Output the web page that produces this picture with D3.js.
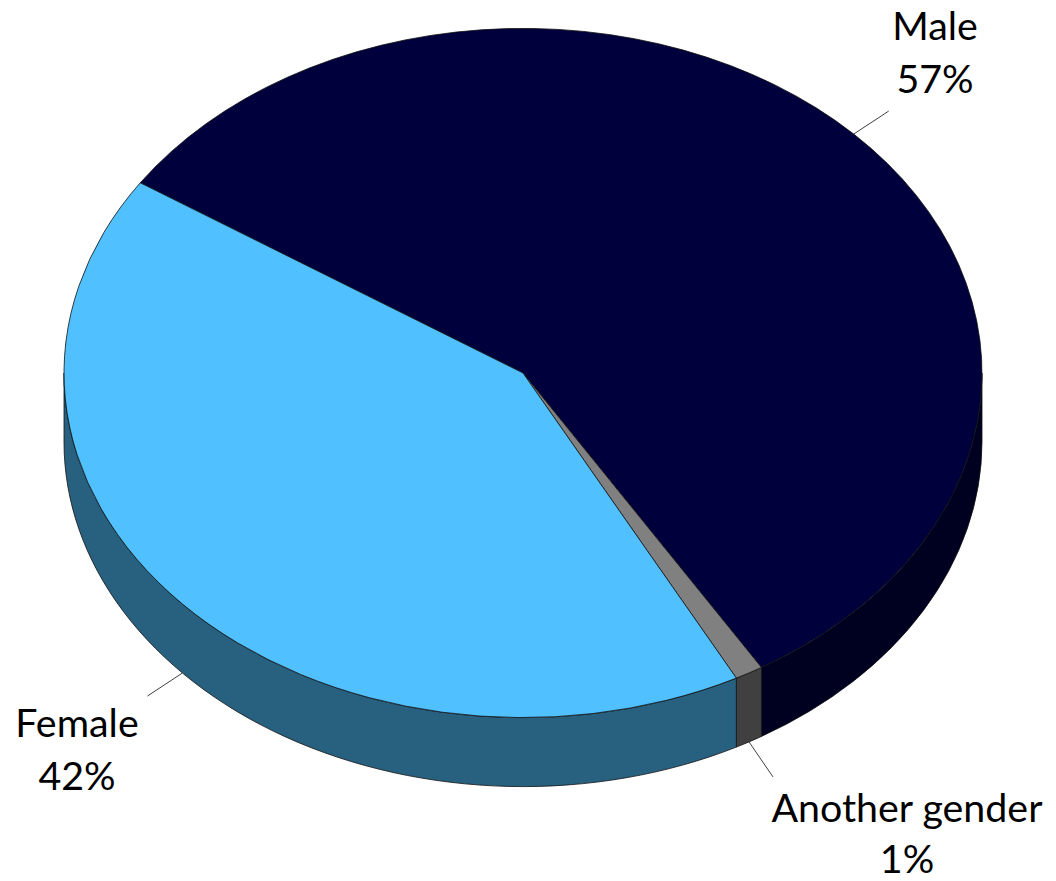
<!DOCTYPE html>
<html>
<head>
<meta charset="utf-8">
<script src="https://cdn.jsdelivr.net/npm/d3@7/dist/d3.min.js"></script>
<style>
  html, body { margin: 0; padding: 0; background: #ffffff; }
  svg { display: block; }
</style>
</head>
<body>
<svg id="chart" width="1056" height="881"></svg>
<script>
// ---- data ----
const categories = ["Male", "Another gender", "Female"];
const values = [57, 1, 42];
const pctLabels = ["57%", "1%", "42%"];
const topColors = ["#00003d", "#808080", "#50c0ff"];
const sideColors = ["#000021", "#404040", "#28607f"];

// ---- layout ----
const W = 1056, H = 881;
const cx = 523, cy = 373, rx = 459, ry = 344.6, depth = 69;
const startDeg = -56.5;
const labelLayout = {
  "Male":           { anchor: "top",    dx: 35,  dy: -23, tx: 935, ty1: 40,  ty2: 93 },
  "Another gender": { anchor: "bottom", dx: 24,  dy: 35,  tx: 907, ty1: 822, ty2: 873 },
  "Female":         { anchor: "bottom", dx: -35, dy: 23,  tx: 77,  ty1: 737, ty2: 790 }
};

const svg = d3.select("#chart");
const data = categories.map((c, i) => ({ cat: c, value: values[i], pct: pctLabels[i], top: topColors[i], side: sideColors[i] }));

const start = startDeg * Math.PI / 180;
const pie = d3.pie().sort(null).value(d => d.value).startAngle(start).endAngle(start + 2 * Math.PI);
const arcs = pie(data);

const px = a => cx + rx * Math.sin(a);
const py = a => cy - ry * Math.cos(a);

// side walls (front half only)
function sidePath(a0, a1) {
  const large = (a1 - a0) > Math.PI ? 1 : 0;
  return `M${px(a0)},${py(a0)}` +
    `A${rx},${ry} 0 ${large} 1 ${px(a1)},${py(a1)}` +
    `L${px(a1)},${py(a1) + depth}` +
    `A${rx},${ry} 0 ${large} 0 ${px(a0)},${py(a0) + depth}Z`;
}
const sideSegs = [];
arcs.forEach(a => {
  [-2 * Math.PI, 0, 2 * Math.PI].forEach(off => {
    const lo = Math.max(a.startAngle, Math.PI / 2 + off);
    const hi = Math.min(a.endAngle, 3 * Math.PI / 2 + off);
    if (hi > lo) sideSegs.push({ a0: lo, a1: hi, d: a.data });
  });
});
svg.append("g").selectAll("path").data(sideSegs).join("path")
  .attr("d", s => sidePath(s.a0, s.a1))
  .attr("fill", s => s.d.side)
  .attr("stroke", "#111")
  .attr("stroke-width", 0.8)
  .attr("stroke-linejoin", "round");

// top faces via d3.arc scaled to ellipse
const R = 100;
const arcGen = d3.arc().innerRadius(0).outerRadius(R);
svg.append("g")
  .attr("transform", `translate(${cx},${cy}) scale(${rx / R},${ry / R})`)
  .selectAll("path").data(arcs).join("path")
  .attr("d", arcGen)
  .attr("fill", a => a.data.top)
  .attr("stroke", "#111")
  .attr("stroke-width", 0.8)
  .attr("vector-effect", "non-scaling-stroke")
  .attr("stroke-linejoin", "round");

// labels
const fontFamily = "Lato, 'Open Sans', sans-serif";
// fit font size so "Another gender" spans ~271px
const probe = svg.append("text").attr("font-family", fontFamily).attr("font-size", 40).text("Another gender");
const w40 = probe.node().getComputedTextLength();
probe.remove();
const fontSize = 40 * 271 / w40;

const lg = svg.append("g");
arcs.forEach(a => {
  const L = labelLayout[a.data.cat];
  const mid = (a.startAngle + a.endAngle) / 2;
  const x0 = px(mid);
  const y0 = py(mid) + (L.anchor === "bottom" ? depth : 0);
  lg.append("line")
    .attr("x1", x0).attr("y1", y0)
    .attr("x2", x0 + L.dx).attr("y2", y0 + L.dy)
    .attr("stroke", "#404040").attr("stroke-width", 1);
  lg.append("text").attr("x", L.tx).attr("y", L.ty1)
    .attr("text-anchor", "middle").attr("font-family", fontFamily).attr("font-size", fontSize)
    .attr("fill", "#000").text(a.data.cat);
  lg.append("text").attr("x", L.tx).attr("y", L.ty2)
    .attr("text-anchor", "middle").attr("font-family", fontFamily).attr("font-size", fontSize)
    .attr("fill", "#000").text(a.data.pct);
});
</script>
</body>
</html>
